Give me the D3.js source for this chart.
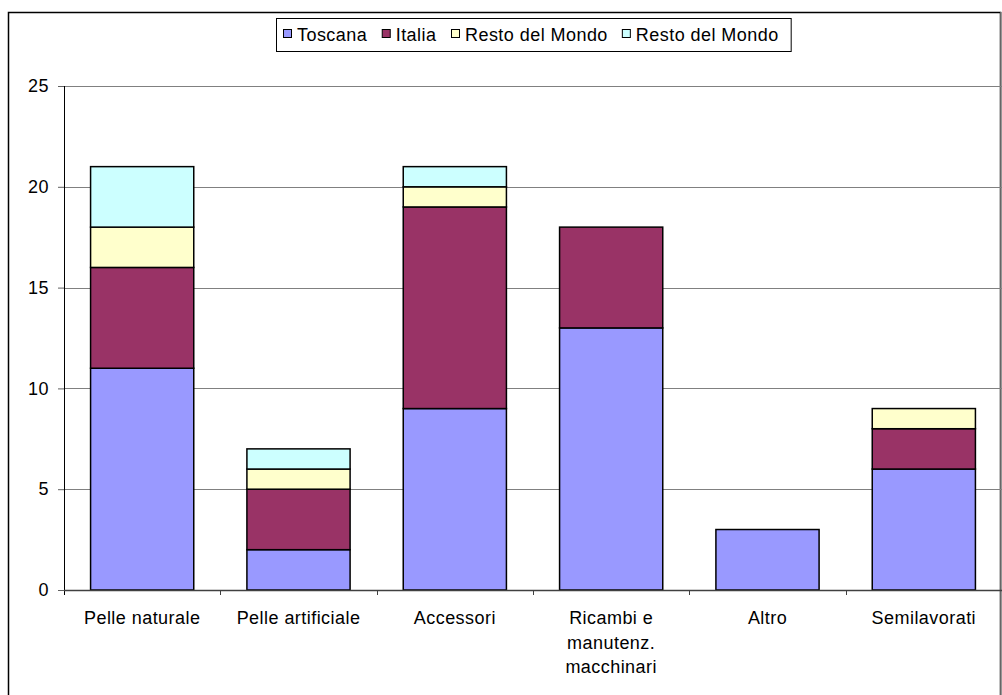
<!DOCTYPE html>
<html>
<head>
<meta charset="utf-8">
<script src="https://cdn.jsdelivr.net/npm/d3@7"></script>
<style>
  html, body { margin: 0; padding: 0; background: #fff; }
  svg { display: block; }
  text { font-family: "Liberation Sans", Arial, sans-serif; fill: #000; }
</style>
</head>
<body>
<svg id="chart" width="1002" height="695"></svg>
<script>
// Categories (x axis), multi-line labels split on "\n"
const categories = [
  "Pelle naturale",
  "Pelle artificiale",
  "Accessori",
  "Ricambi e\nmanutenz.\nmacchinari",
  "Altro",
  "Semilavorati"
];

// Series names as shown in the legend
const seriesNames = ["Toscana", "Italia", "Resto del Mondo", "Resto del Mondo"];

// Series values, one per category
const toscana   = [11, 2, 9, 13, 3, 6];
const italia    = [5, 3, 10, 5, 0, 2];
const restoA    = [2, 1, 1, 0, 0, 1];
const restoB    = [3, 1, 1, 0, 0, 0];

const yTicks = [0, 5, 10, 15, 20, 25];

const colors = ["#9999FF", "#993366", "#FFFFCC", "#CCFFFF"];

const FONT_SIZE = 18;
const SPACING = "0.45px";

const svg = d3.select("#chart");

// Outer frame
svg.append("rect")
  .attr("x", 8.5).attr("y", 12.5)
  .attr("width", 992).attr("height", 700)
  .attr("fill", "none").attr("stroke", "#000").attr("stroke-width", 1.5);
svg.append("line")
  .attr("x1", 1001).attr("x2", 1001).attr("y1", 12).attr("y2", 695)
  .attr("stroke", "#888").attr("stroke-width", 1.5);

const plot = { left: 64, right: 1002, top: 86, bottom: 590 };

const x = d3.scaleBand()
  .domain(categories.map((d, i) => i))
  .range([plot.left, plot.right])
  .paddingInner(0).paddingOuter(0);

const barW = x.bandwidth() * 0.66;

const y = d3.scaleLinear().domain([0, 25]).range([plot.bottom, plot.top]);

// Gridlines
svg.append("g")
  .selectAll("line")
  .data(yTicks.filter(t => t > 0))
  .join("line")
  .attr("x1", plot.left).attr("x2", plot.right)
  .attr("y1", d => Math.round(y(d)) + 0.5).attr("y2", d => Math.round(y(d)) + 0.5)
  .attr("stroke", "#808080").attr("stroke-width", 1);

// Stacked data
const rows = categories.map((c, i) => ({
  key: i, s0: toscana[i], s1: italia[i], s2: restoA[i], s3: restoB[i]
}));
const stack = d3.stack().keys(["s0", "s1", "s2", "s3"]);
const layers = stack(rows);

svg.append("g")
  .selectAll("g")
  .data(layers)
  .join("g")
  .attr("fill", (d, i) => colors[i])
  .selectAll("rect")
  .data(d => d.filter(p => p[1] - p[0] > 0))
  .join("rect")
  .attr("x", d => x(d.data.key) + (x.bandwidth() - barW) / 2)
  .attr("width", barW)
  .attr("y", d => y(d[1]))
  .attr("height", d => y(d[0]) - y(d[1]))
  .attr("stroke", "#000").attr("stroke-width", 1.5);

// Y axis
const yAxis = d3.axisLeft(y).tickValues(yTicks).tickSize(6).tickPadding(9);
const gy = svg.append("g")
  .attr("transform", `translate(${plot.left},0)`)
  .call(yAxis);
gy.select(".domain").attr("stroke", "#000").attr("stroke-width", 1)
  .attr("d", `M0.5,${plot.top}V${plot.bottom + 5}`);
gy.selectAll(".tick line").attr("stroke", "#606060");
gy.selectAll(".tick text")
  .attr("font-size", FONT_SIZE).attr("fill", "#000")
  .style("letter-spacing", SPACING)
  .attr("font-family", "Liberation Sans, Arial, sans-serif");

// X axis baseline with ticks at category boundaries
const gx = svg.append("g");
gx.append("line")
  .attr("x1", plot.left).attr("x2", plot.right)
  .attr("y1", plot.bottom + 0.5).attr("y2", plot.bottom + 0.5)
  .attr("stroke", "#404040").attr("stroke-width", 1.5);
gx.selectAll("line.tk")
  .data(categories.map((d, i) => i).slice(1))
  .join("line")
  .attr("class", "tk")
  .attr("x1", d => Math.round(x(d)) + 0.5).attr("x2", d => Math.round(x(d)) + 0.5)
  .attr("y1", plot.bottom).attr("y2", plot.bottom + 5)
  .attr("stroke", "#404040");

// Category labels
const labels = gx.selectAll("text.cat")
  .data(categories)
  .join("text")
  .attr("class", "cat")
  .attr("text-anchor", "middle")
  .attr("font-size", FONT_SIZE)
  .style("letter-spacing", SPACING)
  .attr("transform", (d, i) => `translate(${x(i) + x.bandwidth() / 2},624)`);
labels.each(function(d) {
  d3.select(this).selectAll("tspan")
    .data(d.split("\n"))
    .join("tspan")
    .attr("x", 0)
    .attr("y", (t, j) => j * 24.5)
    .text(t => t);
});

// Legend
const legend = svg.append("g");
const legendBox = legend.append("rect")
  .attr("fill", "#fff").attr("stroke", "#000").attr("stroke-width", 1);
let lx = 283;
const items = legend.selectAll("g")
  .data(seriesNames)
  .join("g");
items.each(function(name, i) {
  const g = d3.select(this);
  g.append("rect")
    .attr("x", lx + 0.5).attr("y", 29.5)
    .attr("width", 8).attr("height", 8)
    .attr("fill", colors[i]).attr("stroke", "#000").attr("stroke-width", 1);
  const t = g.append("text")
    .attr("x", lx + 14).attr("y", 41)
    .attr("font-size", FONT_SIZE)
    .style("letter-spacing", SPACING)
    .text(name);
  const bb = t.node().getBBox();
  lx = bb.x + bb.width + 14;
});
legendBox
  .attr("x", 276.5).attr("y", 18.5)
  .attr("width", lx - 2 - 276).attr("height", 33);
</script>
</body>
</html>
